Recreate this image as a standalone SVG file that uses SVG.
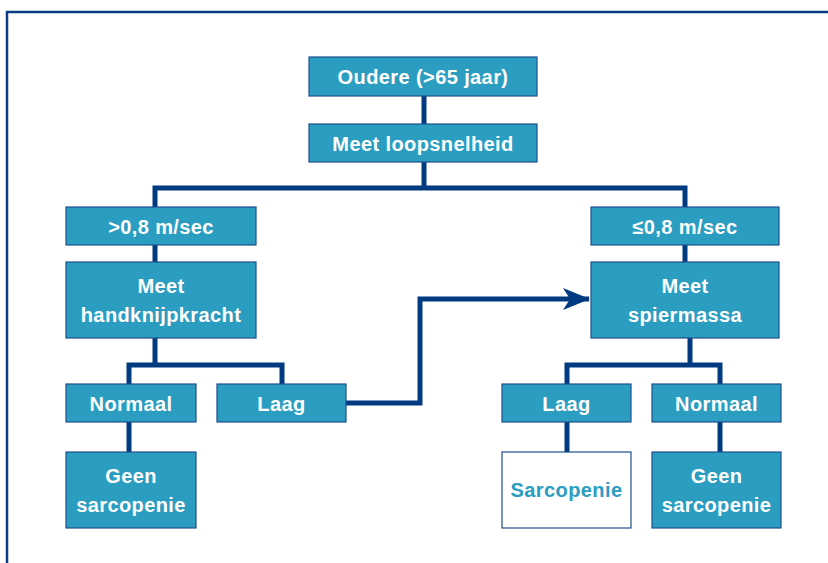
<svg xmlns="http://www.w3.org/2000/svg" width="828" height="563" viewBox="0 0 828 563">
<defs>
<style>
.box{fill:#2a9dc1;stroke:#1f4f8f;stroke-width:1.2}
.wbox{fill:#ffffff;stroke:#1f4f8f;stroke-width:1.2}
.t{font-family:"Liberation Sans","Open Sans",Arial,sans-serif;font-weight:bold;font-size:20px;letter-spacing:0.4px;fill:#ffffff;text-anchor:middle}
.tb{fill:#2a9dc1}
.c{fill:none;stroke:#003a80;stroke-width:5;stroke-linejoin:miter}
</style>
<marker id="ah" markerWidth="28" markerHeight="22" refX="26" refY="11" orient="auto" markerUnits="userSpaceOnUse">
<path d="M0,0 L27,11 L0,22 L7,11 Z" fill="#003a80"/>
</marker>
</defs>
<rect x="0" y="0" width="828" height="563" fill="#ffffff"/>
<rect x="7" y="12" width="840" height="580" fill="none" stroke="#0a3d85" stroke-width="2.5"/>
<g id="connectors">
<path class="c" d="M424,96 V124"/>
<path class="c" d="M424,162 V188 M155,207 V188 H685 V207"/>
<path class="c" d="M155,245 V262"/>
<path class="c" d="M685,245 V262"/>
<path class="c" d="M155,338 V365 M129,384 V365 H282 V384"/>
<path class="c" d="M129,422 V452"/>
<path class="c" d="M690,338 V365 M567,384 V365 H720 V384"/>
<path class="c" d="M567,422 V452"/>
<path class="c" d="M720,422 V452"/>
<path class="c" d="M346,403 H420 V299 H589" marker-end="url(#ah)"/>
</g>
<g id="n1"><rect class="box" x="309" y="57" width="228" height="39"/><text class="t" x="423" y="84">Oudere (&gt;65 jaar)</text></g>
<g id="n2"><rect class="box" x="309" y="124" width="228" height="38"/><text class="t" x="423" y="150.5">Meet loopsnelheid</text></g>
<g id="n3"><rect class="box" x="66" y="207" width="190" height="38"/><text class="t" x="161" y="233.5">&gt;0,8 m/sec</text></g>
<g id="n4"><rect class="box" x="591" y="207" width="188" height="38"/><text class="t" x="685" y="233.5">≤0,8 m/sec</text></g>
<g id="n5"><rect class="box" x="66" y="262" width="190" height="76"/><text class="t" x="161" y="293">Meet</text><text class="t" x="161" y="322">handknijpkracht</text></g>
<g id="n6"><rect class="box" x="591" y="262" width="188" height="76"/><text class="t" x="685" y="293">Meet</text><text class="t" x="685" y="322">spiermassa</text></g>
<g id="n7"><rect class="box" x="66" y="384" width="130" height="38"/><text class="t" x="131" y="410.5">Normaal</text></g>
<g id="n8"><rect class="box" x="217" y="384" width="129" height="38"/><text class="t" x="281.5" y="410.5">Laag</text></g>
<g id="n9"><rect class="box" x="502" y="384" width="129" height="38"/><text class="t" x="566.5" y="410.5">Laag</text></g>
<g id="n10"><rect class="box" x="652" y="384" width="129" height="38"/><text class="t" x="716.5" y="410.5">Normaal</text></g>
<g id="n11"><rect class="box" x="66" y="452" width="130" height="76"/><text class="t" x="131" y="483">Geen</text><text class="t" x="131" y="512">sarcopenie</text></g>
<g id="n12"><rect class="wbox" x="502" y="452" width="129" height="76"/><text class="t tb" x="566.5" y="496.5">Sarcopenie</text></g>
<g id="n13"><rect class="box" x="652" y="452" width="129" height="76"/><text class="t" x="716.5" y="483">Geen</text><text class="t" x="716.5" y="512">sarcopenie</text></g>
</svg>
